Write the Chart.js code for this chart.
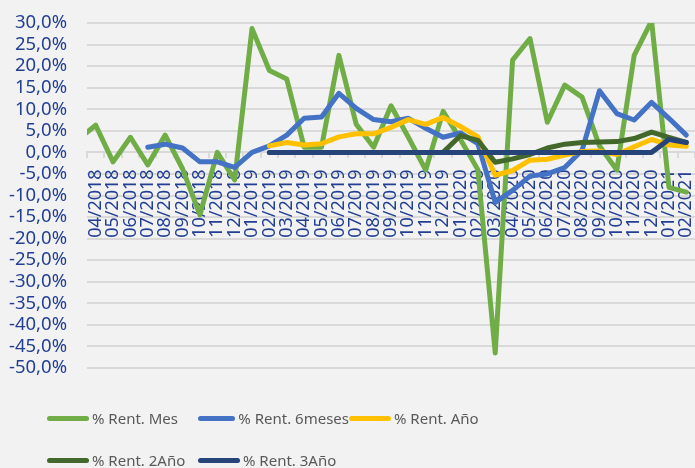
<!DOCTYPE html>
<html>
<head>
<meta charset="utf-8">
<script src="https://cdn.jsdelivr.net/npm/chart.js@4"></script>
<style>
  html, body { margin: 0; padding: 0; background: #f2f2f2; }
  #wrap { position: relative; width: 695px; height: 468px; }
  #legend { position: absolute; left: 47px; top: 404px; display: grid;
    grid-template-columns: 151px 151px 151px; row-gap: 14px; }
  .item { display: flex; align-items: center; height: 28px; font: 15px "Noto Sans", sans-serif; color: #595959; white-space: nowrap; }
  .swatch { width: 42px; height: 5px; border-radius: 3px; margin-right: 3px; }
</style>
</head>
<body>
<div id="wrap">
  <canvas id="c" width="695" height="468"></canvas>
  <div id="legend"></div>
</div>
<script>
// first label is only there for the clipped line stub at the left edge
const months = ['03/2018', '04/2018', '05/2018', '06/2018', '07/2018', '08/2018', '09/2018', '10/2018', '11/2018', '12/2018',
  '01/2019', '02/2019', '03/2019', '04/2019', '05/2019', '06/2019', '07/2019', '08/2019', '09/2019', '10/2019', '11/2019', '12/2019',
  '01/2020', '02/2020', '03/2020', '04/2020', '05/2020', '06/2020', '07/2020', '08/2020', '09/2020', '10/2020', '11/2020', '12/2020',
  '01/2021', '02/2021'];

const rentMes = [3.0, 6.3, -2.2, 3.5, -2.9, 4.0, -3.8, -14.5, 0.0, -6.4,
  28.7, 19.0, 17.0, 1.2, 1.2, 22.5, 6.5, 1.2, 10.8, 3.5, -4.1, 9.5,
  3.0, -4.0, -46.5, 21.4, 26.4, 7.0, 15.6, 12.8, 1.5, -4.1, 22.5, 30.5,
  -8.1, -9.2];
const rent6m = [null, null, null, null, 1.2, 1.9, 1.0, -2.2, -2.2, -3.5,
  0.0, 1.5, 4.0, 7.9, 8.2, 13.7, 10.2, 7.6, 7.1, 7.9, 5.6, 3.5,
  4.5, 2.0, -11.6, -8.8, -5.5, -5.0, -3.5, 0.5, 14.3, 9.0, 7.5, 11.6,
  7.9, 4.0];
const rentAno = [null, null, null, null, null, null, null, null, null, null,
  null, 1.5, 2.3, 1.7, 2.0, 3.6, 4.3, 4.3, 5.8, 7.6, 6.5, 8.1,
  6.0, 3.6, -5.3, -4.2, -1.8, -1.6, -0.6, 0.2, 0.3, -0.5, 1.3, 3.0,
  1.7, 1.4];
const rent2Ano = [null, null, null, null, null, null, null, null, null, null,
  null, 0, 0, 0, 0, 0, 0, 0, 0, 0, 0, 0,
  3.9, 2.8, -2.3, -1.5, -0.5, 1.0, 1.9, 2.3, 2.4, 2.5, 3.2, 4.7,
  3.5, 2.3];
const rent3Ano = [null, null, null, null, null, null, null, null, null, null,
  null, 0, 0, 0, 0, 0, 0, 0, 0, 0, 0, 0,
  0, 0, 0, 0, 0, 0, 0, 0, 0, 0, 0, 0,
  3.0, 2.3];

const seriesNames = ['% Rent. Mes', '% Rent. 6meses', '% Rent. Año', '% Rent. 2Año', '% Rent. 3Año'];
const seriesColors = ['#70ad47', '#4472c4', '#ffc000', '#43682b', '#264478'];
const seriesData = [rentMes, rent6m, rentAno, rent2Ano, rent3Ano];

const tickColor = '#223f93';
const gridColor = '#d9d9d9';

const datasets = seriesData.map((d, i) => ({
  label: seriesNames[i],
  data: d,
  borderColor: seriesColors[i],
  backgroundColor: seriesColors[i],
  borderWidth: 5,
  borderJoinStyle: 'round',
  borderCapStyle: 'round',
  pointRadius: 0,
  tension: 0,
  order: seriesData.length - i, // later series on top, like the original
}));

const chart = new Chart(document.getElementById('c'), {
  type: 'line',
  data: { labels: months, datasets: datasets },
  options: {
    responsive: false,
    animation: false,
    layout: { padding: { top: 23, bottom: 100, left: 0, right: 0 } },
    plugins: { legend: { display: false }, tooltip: { enabled: false } },
    scales: {
      x: {
        position: { y: 0 },
        min: '04/2018',
        offset: true,
        grid: { offset: true, drawOnChartArea: false, drawTicks: true, tickLength: 5, color: gridColor, lineWidth: 2 },
        border: { display: true, color: gridColor, width: 2 },
        ticks: {
          autoSkip: false, maxRotation: 90, minRotation: 90, padding: 12,
          color: tickColor, font: { family: 'Noto Sans', size: 18 },
        },
        afterFit: (s) => { s.paddingLeft = 0; s.paddingRight = 0; },
      },
      y: {
        min: -50, max: 30,
        grid: { color: gridColor, lineWidth: 2, drawTicks: false },
        border: { display: false },
        ticks: {
          stepSize: 5, autoSkip: false, padding: 20, color: tickColor,
          font: { family: 'Noto Sans', size: 18.5 },
          callback: (v) => v.toFixed(1).replace('.', ',') + '%',
        },
        afterFit: (s) => { s.width = 87; s.paddingTop = 0; s.paddingBottom = 0; },
      },
    },
  },
});

// legend laid out in fixed columns like the original
const legend = document.getElementById('legend');
chart.data.datasets.forEach((ds) => {
  const item = document.createElement('div');
  item.className = 'item';
  const sw = document.createElement('span');
  sw.className = 'swatch';
  sw.style.background = ds.borderColor;
  item.appendChild(sw);
  item.appendChild(document.createTextNode(ds.label));
  legend.appendChild(item);
});
</script>
</body>
</html>
